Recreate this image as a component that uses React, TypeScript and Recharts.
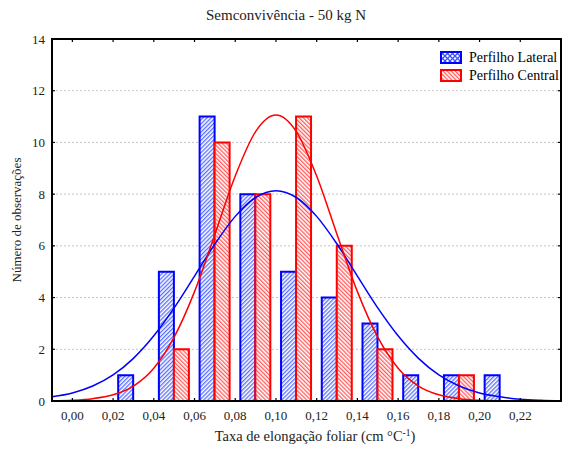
import React from 'react';
import { ComposedChart, Bar, Line, XAxis, YAxis, CartesianGrid, Legend, ReferenceArea } from 'recharts';

// Histogram bins (class centres) and counts
const binCenters = ['0,01', '0,03', '0,05', '0,07', '0,09', '0,11', '0,13', '0,15', '0,17', '0,19', '0,21', '0,23'];
const lateralCounts = [0, 1, 5, 11, 8, 5, 4, 3, 1, 1, 1, 0];
const centralCounts = [0, 0, 2, 10, 8, 11, 6, 2, 0, 1, 0, 0];

// Fitted curves
const curveX = [-0.01, 0, 0.01, 0.02, 0.03, 0.04, 0.05, 0.06, 0.07, 0.08, 0.09, 0.1, 0.11, 0.12, 0.13, 0.14, 0.15, 0.16, 0.17, 0.18, 0.19, 0.2, 0.21, 0.22, 0.23, 0.24];
const lateralFit = [0.16, 0.31, 0.58, 1.01, 1.65, 2.52, 3.6, 4.83, 6.07, 7.14, 7.87, 8.13, 7.87, 7.14, 6.07, 4.83, 3.6, 2.52, 1.65, 1.01, 0.58, 0.31, 0.16, 0.07, 0.03, 0.01];
const centralFit = [0.01, 0.03, 0.09, 0.24, 0.58, 1.27, 2.47, 4.23, 6.44, 8.7, 10.42, 11.06, 10.42, 8.7, 6.44, 4.23, 2.47, 1.27, 0.58, 0.24, 0.09, 0.03, 0.01, 0, 0, 0];

const xTicks = [0, 0.02, 0.04, 0.06, 0.08, 0.1, 0.12, 0.14, 0.16, 0.18, 0.2, 0.22];
const yTicks = [0, 2, 4, 6, 8, 10, 12, 14];
const xDomain: [number, number] = [-0.01, 0.24];
const yDomain: [number, number] = [0, 14];

const seriesNames = ['Perfilho Lateral', 'Perfilho Central'];
const title = 'Semconvivência - 50 kg N';
const yLabel = 'Número de observações';

const BLUE = '#0000ff';
const RED = '#ff0000';
const FONT = '"Liberation Serif", "Times New Roman", serif';

const binData = binCenters.map((bin, i) => ({ bin, lateral: lateralCounts[i], central: centralCounts[i] }));
const lateralCurve = curveX.map((x, i) => ({ x, lateral: lateralFit[i] }));
const centralCurve = curveX.map((x, i) => ({ x, central: centralFit[i] }));

const fmt = (v: number) => v.toFixed(2).replace('.', ',');

const Patterns = ({ prefix }: { prefix: string }) => (
  <defs>
    <pattern id={`${prefix}blue`} patternUnits="userSpaceOnUse" width="2.9" height="2.9" patternTransform="rotate(45)">
      <rect width="2.9" height="2.9" fill="#ffffff" />
      <line x1="0.7" y1="0" x2="0.7" y2="2.9" stroke="#3a55ff" strokeWidth="1.1" />
    </pattern>
    <pattern id={`${prefix}red`} patternUnits="userSpaceOnUse" width="2.9" height="2.9" patternTransform="rotate(-45)">
      <rect width="2.9" height="2.9" fill="#ffffff" />
      <line x1="0.7" y1="0" x2="0.7" y2="2.9" stroke="#ff4040" strokeWidth="1.1" />
    </pattern>
    <pattern id={`${prefix}cross`} patternUnits="userSpaceOnUse" width="5" height="5">
      <rect width="5" height="5" fill="#ffffff" />
      <path d="M0,0 L5,5 M5,0 L0,5" stroke="#3a55ff" strokeWidth="1.3" />
    </pattern>
  </defs>
);

const renderLegend = () => (
  <div style={{ fontFamily: FONT, fontSize: 14, color: '#000', lineHeight: '18px' }}>
    <svg width={0} height={0} style={{ position: 'absolute' }}>
      <Patterns prefix="lg" />
    </svg>
    {seriesNames.map((name, i) => (
      <div key={name} style={{ display: 'flex', alignItems: 'center', height: 18 }}>
        <svg width={22} height={13} style={{ display: 'block' }}>
          <rect x={1} y={1} width={20} height={11} fill={i === 0 ? 'url(#lgcross)' : 'url(#lgred)'} stroke={i === 0 ? BLUE : RED} strokeWidth={2} />
        </svg>
        <span style={{ marginLeft: 7, whiteSpace: 'nowrap' }}>{name}</span>
      </div>
    ))}
  </div>
);

const axisLineStyle = { stroke: '#000', strokeWidth: 2, strokeDasharray: 'none' };
const tickLineStyle = { stroke: '#000', strokeWidth: 1.2 };

export default function App() {
  return (
    <div style={{ position: 'absolute', left: 0, top: 0, width: 562, height: 452, background: '#fff' }}>
      <ComposedChart
        width={562}
        height={452}
        data={binData}
        margin={{ top: 38, right: 0, bottom: 21, left: 0 }}
        barCategoryGap="12.5%"
        barGap={0}
      >
        <Patterns prefix="ch" />
        <CartesianGrid xAxisId="num" vertical={false} stroke="#c4c4c4" strokeDasharray="2 2" />
        <XAxis xAxisId="bins" dataKey="bin" type="category" hide height={0} padding={{ left: 20.36, right: 0 }} />
        <XAxis
          xAxisId="num"
          dataKey="x"
          type="number"
          domain={xDomain}
          allowDataOverflow
          ticks={xTicks}
          tickFormatter={fmt}
          height={30}
          tickSize={-3}
          tickMargin={13}
          axisLine={axisLineStyle}
          tickLine={tickLineStyle}
          tick={{ fill: '#222', fontSize: 13, fontFamily: FONT }}
        />
        <XAxis
          xAxisId="top"
          orientation="top"
          dataKey="x"
          type="number"
          domain={xDomain}
          allowDataOverflow
          ticks={xTicks}
          tickFormatter={() => ''}
          height={1}
          tickSize={-3}
          axisLine={axisLineStyle}
          tickLine={tickLineStyle}
        />
        <YAxis
          domain={yDomain}
          ticks={yTicks}
          allowDataOverflow
          width={52}
          tickSize={-3}
          tickMargin={10}
          axisLine={axisLineStyle}
          tickLine={tickLineStyle}
          tick={{ fill: '#222', fontSize: 13, fontFamily: FONT }}
        />
        <YAxis
          yAxisId="right"
          orientation="right"
          domain={yDomain}
          ticks={yTicks}
          allowDataOverflow
          width={1}
          tickSize={-3}
          tickFormatter={() => ''}
          axisLine={axisLineStyle}
          tickLine={tickLineStyle}
        />
        <Bar xAxisId="bins" dataKey="lateral" name={seriesNames[0]} fill="url(#chblue)" stroke={BLUE} strokeWidth={2} isAnimationActive={false} />
        <Bar xAxisId="bins" dataKey="central" name={seriesNames[1]} fill="url(#chred)" stroke={RED} strokeWidth={2} isAnimationActive={false} />
        <Line xAxisId="num" yAxisId="right" data={lateralCurve} dataKey="lateral" type="monotone" stroke={BLUE} strokeWidth={1.5} dot={false} activeDot={false} isAnimationActive={false} legendType="none" />
        <Line xAxisId="top" yAxisId="right" data={centralCurve} dataKey="central" type="monotone" stroke={RED} strokeWidth={1.5} dot={false} activeDot={false} isAnimationActive={false} legendType="none" />
        <ReferenceArea
          xAxisId="num"
          x1={xDomain[0]}
          x2={xDomain[1]}
          y1={yDomain[0]}
          y2={yDomain[1]}
          fill="none"
          fillOpacity={0}
          stroke="#000"
          strokeWidth={2}
          strokeOpacity={1}
          ifOverflow="visible"
        />
        <Legend
          layout="vertical"
          align="center"
          verticalAlign="middle"
          content={renderLegend}
          wrapperStyle={{ top: 48.5, left: 440, width: 122 }}
        />
        <text x={286} y={20} textAnchor="middle" fontFamily={FONT} fontSize={15} fill="#222">{title}</text>
        <text transform="translate(21,220) rotate(-90)" textAnchor="middle" fontFamily={FONT} fontSize={13} fill="#222">{yLabel}</text>
        <text x={315} y={441} textAnchor="middle" fontFamily={FONT} fontSize={14.5} fill="#222">
          Taxa de elongação foliar (cm °C
          <tspan dy={-5} fontSize={9.5}>-1</tspan>
          <tspan dy={5}>)</tspan>
        </text>
      </ComposedChart>
    </div>
  );
}
